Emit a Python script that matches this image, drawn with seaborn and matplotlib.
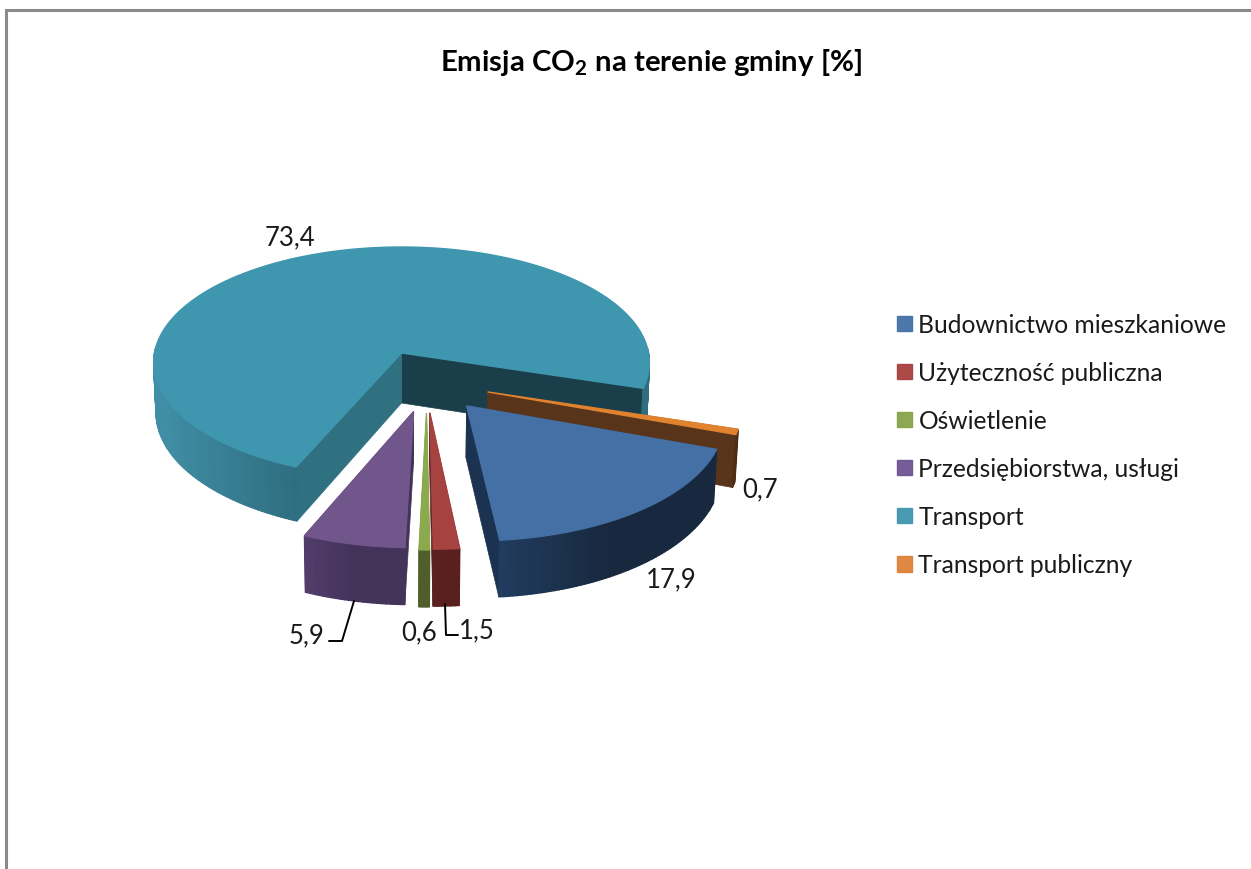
#!/usr/bin/python
import numpy as np
import matplotlib
matplotlib.use('Agg')
import matplotlib.pyplot as plt
from matplotlib.patches import Patch
import seaborn as sns

categories = ["Budownictwo mieszkaniowe", "Użyteczność publiczna", "Oświetlenie",
              "Przedsiębiorstwa, usługi", "Transport", "Transport publiczny"]
values = [17.9, 1.5, 0.6, 5.9, 73.4, 0.7]

top_colors = ["#4470A5", "#A6423F", "#8BA94D", "#71568C", "#3F96AF", "#E0822E"]
legend_colors = ["#4470A5", "#A8403E", "#86A44A", "#6F5493", "#3F96AF", "#DE8238"]
wall_light = ["#213C5E", "#5C2020", "#4F5E2A", "#523D6B", "#418FA7", "#57341A"]
wall_dark = ["#18283F", "#5A1F1F", "#4F5E2A", "#43335A", "#2F6E80", "#4A2C12"]
face_colors = ["#1B3350", "#5C2020", "#4F5E2A", "#43335A", None, "#57341A"]

# slice offsets on the pie plane, Excel does not explode these purely radially
explode = [(.254, -.444), (.11, -.50), (.097, -.505), (.047, -.49), (0, 0), (.339, -.33)]

sns.set_theme(style="white")
plt.rcParams['font.family'] = ['Lato', 'DejaVu Sans']
plt.rcParams['mathtext.fontset'] = 'custom'
plt.rcParams['mathtext.bf'] = 'Lato:bold'
plt.rcParams['mathtext.rm'] = 'Lato'

CX, CY = 401.5, 354
A, B, K = 247, 114.7, .082
DEPTH = 50
START = -20


def project(x, y, z=0.):
    # plane coords -> pixels, light perspective so the front looks bigger
    s = 1 / (1 + K * y)
    return CX + A * x * s * (1 - .01 * z), CY - B * y * s + DEPTH * s * z


def arc(t1, t2, off):
    th = np.radians(np.linspace(t1, t2, max(int(abs(t2 - t1)) + 2, 3)))
    return np.cos(th) + off[0], np.sin(th) + off[1]


fig = plt.figure(figsize=(12.51, 8.7), dpi=100)
ax = fig.add_axes([0, 0, 1, 1])
ax.set_xlim(0, 1251)
ax.set_ylim(870, 0)
ax.axis('off')

# frame of the pasted sheet
ax.plot([6, 6, 1251], [870, 10.5, 10.5], color='#8a8a8a', lw=2.2, solid_joinstyle='miter')

angles = START - np.cumsum([0] + values) * 3.6
order = [4, 5, 0, 3, 2, 1]

for z, i in enumerate(order):
    t1, t2 = angles[i], angles[i + 1]
    off = explode[i]
    xs, ys = arc(t1, t2, off)
    shades = sns.blend_palette([wall_light[i], wall_dark[i], wall_dark[i]], 40)
    if i == 4:
        shades = sns.blend_palette([wall_light[i], wall_dark[i]], 40)
    apex = project(off[0], off[1])
    apex_low = project(off[0], off[1], 1)

    # cut faces, upper one first
    ends = [(xs[0], ys[0], face_colors[i]), (xs[-1], ys[-1], face_colors[i])]
    ends.sort(key=lambda e: -e[1])
    if i == 4:
        ends[0] = (ends[0][0], ends[0][1], '#1A3E4A')
        ends[1] = (ends[1][0], ends[1][1], '#2F7081')
    for ex, ey, col in ends:
        p, q = project(ex, ey), project(ex, ey, 1)
        ax.fill([apex[0], p[0], q[0], apex_low[0]], [apex[1], p[1], q[1], apex_low[1]],
                color=col, lw=.5, zorder=z + 2)

    # outer wall, shade runs left to right on screen, back part stays hidden
    px, py = project(xs, ys)
    lx, ly = project(xs, ys, 1)
    front = ys - off[1] < .05
    left, right = px[front].min(), px[front].max()
    if i == 4:
        right = project(xs[0], ys[0])[0]
    for j in range(len(xs) - 1):
        if not front[j]:
            continue
        f = np.clip((px[j] - left) / max(right - left, 1), 0, 1)
        col = shades[int(f * 39)]
        ax.fill([px[j], px[j + 1], lx[j + 1], lx[j]], [py[j], py[j + 1], ly[j + 1], ly[j]],
                color=col, lw=1, zorder=z + 2)

    # top of the slice
    ax.fill(np.r_[apex[0], px], np.r_[apex[1], py], color=top_colors[i], lw=1, zorder=z + 2)

# data labels
label_pos = [(671, 580), (477, 631), (419, 633), (307, 636), (290, 238), (760, 490)]
for v, (lx_, ly_) in zip(values, label_pos):
    ax.text(lx_, ly_, f"{v}".replace('.', ','), ha='center', va='center', fontsize=18.5,
            color='#1a1a1a', zorder=20)

ax.plot([354, 342, 329], [602, 642, 642], color='black', lw=1.4, zorder=20)
ax.plot([445, 446, 458], [605, 636, 636], color='black', lw=1.4, zorder=20)

ax.text(651.5, 63, r"Emisja CO$_{\mathbf{2}}$ na terenie gminy [%]", ha='center', va='center',
        fontsize=21.2, fontweight='bold', color='black', zorder=20)

handles = [Patch(facecolor=c, edgecolor=c, alpha=.95) for c in legend_colors]
ax.legend(handles, categories, loc='upper left', bbox_to_anchor=(897, 314), bbox_transform=ax.transData,
          frameon=False, fontsize=17.7, labelcolor='#1a1a1a', handlelength=.62, handleheight=.6,
          handletextpad=.25, labelspacing=1.02, borderpad=0, borderaxespad=0)

fig.savefig('out.png', dpi=100)
